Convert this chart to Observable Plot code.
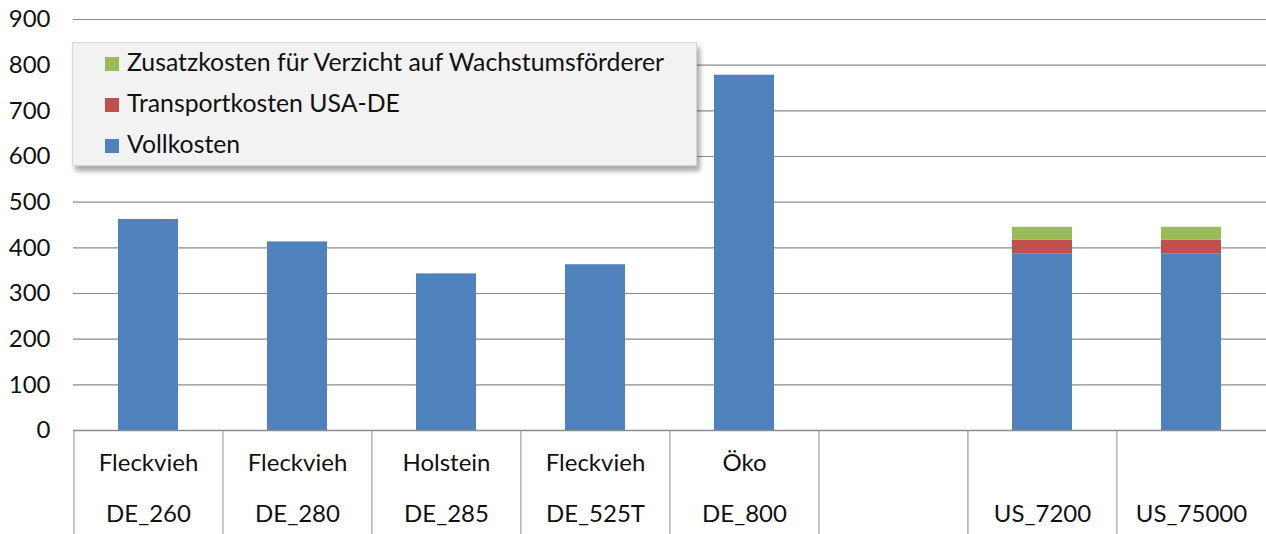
<!DOCTYPE html>
<html>
<head>
<meta charset="utf-8">
<script src="https://cdn.jsdelivr.net/npm/d3@7"></script>
<script src="https://cdn.jsdelivr.net/npm/@observablehq/plot@0.6"></script>
<style>
  body { margin: 0; background: #fff; font-family: Lato, sans-serif; }
  #wrap { position: relative; width: 1266px; height: 534px; }
  #legend {
    position: absolute; left: 72px; top: 42px; width: 625px; height: 124px;
    background: #f2f2f2; border: 1px solid #d6d6d6; box-sizing: border-box;
    box-shadow: 3px 5px 5px rgba(0,0,0,0.35);
  }
  .item { display: flex; align-items: center; height: 41px; padding-left: 32px;
    font-size: 24.8px; color: #111; }
  .item .lbl { position: relative; top: -2px; white-space: nowrap; }
  .sw { width: 14px; height: 14px; margin-right: 8px; flex: none; }
</style>
</head>
<body>
<div id="wrap"></div>
<script>
const categories = ["DE_260", "DE_280", "DE_285", "DE_525T", "DE_800", "", "US_7200", "US_75000"];
const breeds = ["Fleckvieh", "Fleckvieh", "Holstein", "Fleckvieh", "Öko", "", "", ""];
const vollkosten = [462, 413, 343, 363, 778, null, 387, 387];
const transportkosten = [0, 0, 0, 0, 0, null, 30, 30];
const zusatzkosten = [0, 0, 0, 0, 0, null, 28, 28];
const seriesNames = ["Vollkosten", "Transportkosten USA-DE", "Zusatzkosten für Verzicht auf Wachstumsförderer"];
const seriesColors = ["#4f81bd", "#c0504d", "#9bbb59"];
const yTicks = [0, 100, 200, 300, 400, 500, 600, 700, 800, 900];

const seriesValues = [vollkosten, transportkosten, zusatzkosten];
const rows = [];
categories.forEach((cat, i) => {
  seriesValues.forEach((vals, s) => {
    if (vals[i] != null && vals[i] > 0) rows.push({cat, series: seriesNames[s], value: vals[i]});
  });
});

const W = 1266, H = 534, mL = 73, mR = 0, mT = 19, mB = 104;
const step = (W - mL - mR) / categories.length;
const gray = "#8c8c8c";
const ink = "#111";

const chart = Plot.plot({
  width: W, height: H,
  marginTop: mT, marginBottom: mB, marginLeft: mL, marginRight: mR,
  x: {domain: categories, paddingInner: 0.6, paddingOuter: 0.3, axis: null},
  y: {domain: [0, 900], axis: null},
  color: {domain: seriesNames, range: seriesColors},
  style: {fontFamily: "Lato, sans-serif", fontSize: "24px", color: ink, background: "#fff"},
  marks: [
    Plot.gridY(yTicks, {stroke: gray, strokeOpacity: 1, strokeWidth: 1.2}),
    Plot.axisY(yTicks, {tickSize: 0, tickPadding: 23, fontSize: 24, label: null, fill: ink}),
    Plot.barY(rows, {x: "cat", y: "value", fill: "series", order: seriesNames}),
    Plot.axisX(categories, {tickSize: mB, dx: -step / 2, tickFormat: () => "", stroke: gray, label: null}),
    Plot.ruleY([0], {stroke: gray, strokeWidth: 1.5}),
    Plot.text(categories, {x: d => d, text: (d, i) => breeds[i], frameAnchor: "bottom", dy: 40, fontSize: 24, fill: ink}),
    Plot.text(categories, {x: d => d, text: d => d, frameAnchor: "bottom", dy: 91, fontSize: 24, fill: ink})
  ]
});

const wrap = document.getElementById("wrap");
wrap.appendChild(chart);

const legend = document.createElement("div");
legend.id = "legend";
[2, 1, 0].forEach(s => {
  const item = document.createElement("div");
  item.className = "item";
  const sw = document.createElement("span");
  sw.className = "sw";
  sw.style.background = seriesColors[s];
  const label = document.createElement("span");
  label.className = "lbl";
  label.textContent = seriesNames[s];
  item.appendChild(sw);
  item.appendChild(label);
  legend.appendChild(item);
});
wrap.appendChild(legend);
</script>
</body>
</html>
